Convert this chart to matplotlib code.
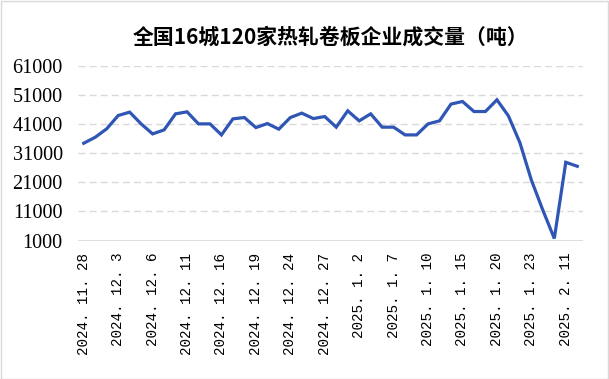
import numpy as np
import matplotlib
matplotlib.use('Agg')
import matplotlib.pyplot as plt
from matplotlib.patches import Rectangle

# trade dates (labels every 3rd point)
dates = ['2024.11.28', '2024.11.29', '2024.12.2', '2024.12.3', '2024.12.4', '2024.12.5',
         '2024.12.6', '2024.12.9', '2024.12.10', '2024.12.11', '2024.12.12', '2024.12.13',
         '2024.12.16', '2024.12.17', '2024.12.18', '2024.12.19', '2024.12.20', '2024.12.23',
         '2024.12.24', '2024.12.25', '2024.12.26', '2024.12.27', '2024.12.30', '2024.12.31',
         '2025.1.2', '2025.1.3', '2025.1.6', '2025.1.7', '2025.1.8', '2025.1.9',
         '2025.1.10', '2025.1.13', '2025.1.14', '2025.1.15', '2025.1.16', '2025.1.17',
         '2025.1.20', '2025.1.21', '2025.1.22', '2025.1.23', '2025.1.24', '2025.1.27',
         '2025.2.11', '2025.2.12']
volume = [34450, 36500, 39400, 43970, 45140, 41100, 37650, 39030, 44550, 45240,
          41100, 41100, 37310, 42830, 43280, 39830, 41210, 39280, 43280, 44790,
          42930, 43620, 39970, 45590, 42140, 44550, 39970, 39970, 37310, 37310,
          41100, 42140, 47900, 48800, 45350, 45350, 49380, 43860, 34660, 21790,
          11450, 1690, 27900, 26520]
y_ticks = [1000, 11000, 21000, 31000, 41000, 51000, 61000]
title = '全国16城120家热轧卷板企业成交量（吨）'

plt.rcParams['font.family'] = ['Noto Sans CJK SC', 'DejaVu Sans']

fig = plt.figure(figsize=(6.09, 3.79), dpi=100)
ax = fig.add_axes([78 / 609, 1 - 240.5 / 379, (583 - 78) / 609, (240.5 - 66) / 379])

x = np.arange(len(volume))
ax.plot(x, volume, color='#2F55B5', lw=2.3, solid_joinstyle='miter', zorder=3)

ax.set_xlim(-0.5, len(volume) - 0.5)
ax.set_ylim(1000, 61000)
ax.set_yticks(y_ticks)
ax.set_yticklabels([str(v) for v in y_ticks], family='Liberation Serif', fontsize=14.5)
ax.yaxis.grid(True, color='#D9D9D9', ls=(0, (5, 3)), lw=1.0)
ax.axhline(1000, color='#D9D9D9', lw=1.2, zorder=2)

ax.set_xticks(x[::3])
ax.set_xticklabels([d.replace('.', '. ') for d in dates[::3]], rotation=90,
                   family='Liberation Mono', fontsize=10.3, va='top')
ax.tick_params(axis='x', length=0, pad=9)
ax.tick_params(axis='y', length=0, pad=11)
for s in ax.spines.values():
    s.set_visible(False)

ax.set_title(title, fontsize=15, fontweight='bold', pad=16)

fig.patches.append(Rectangle((0.5 / 609, 0.5 / 379), 1 - 1.5 / 609, 1 - 1.5 / 379,
                             transform=fig.transFigure, fill=False,
                             edgecolor='#D9D9D9', lw=1))

fig.savefig('out.png', dpi=100)
